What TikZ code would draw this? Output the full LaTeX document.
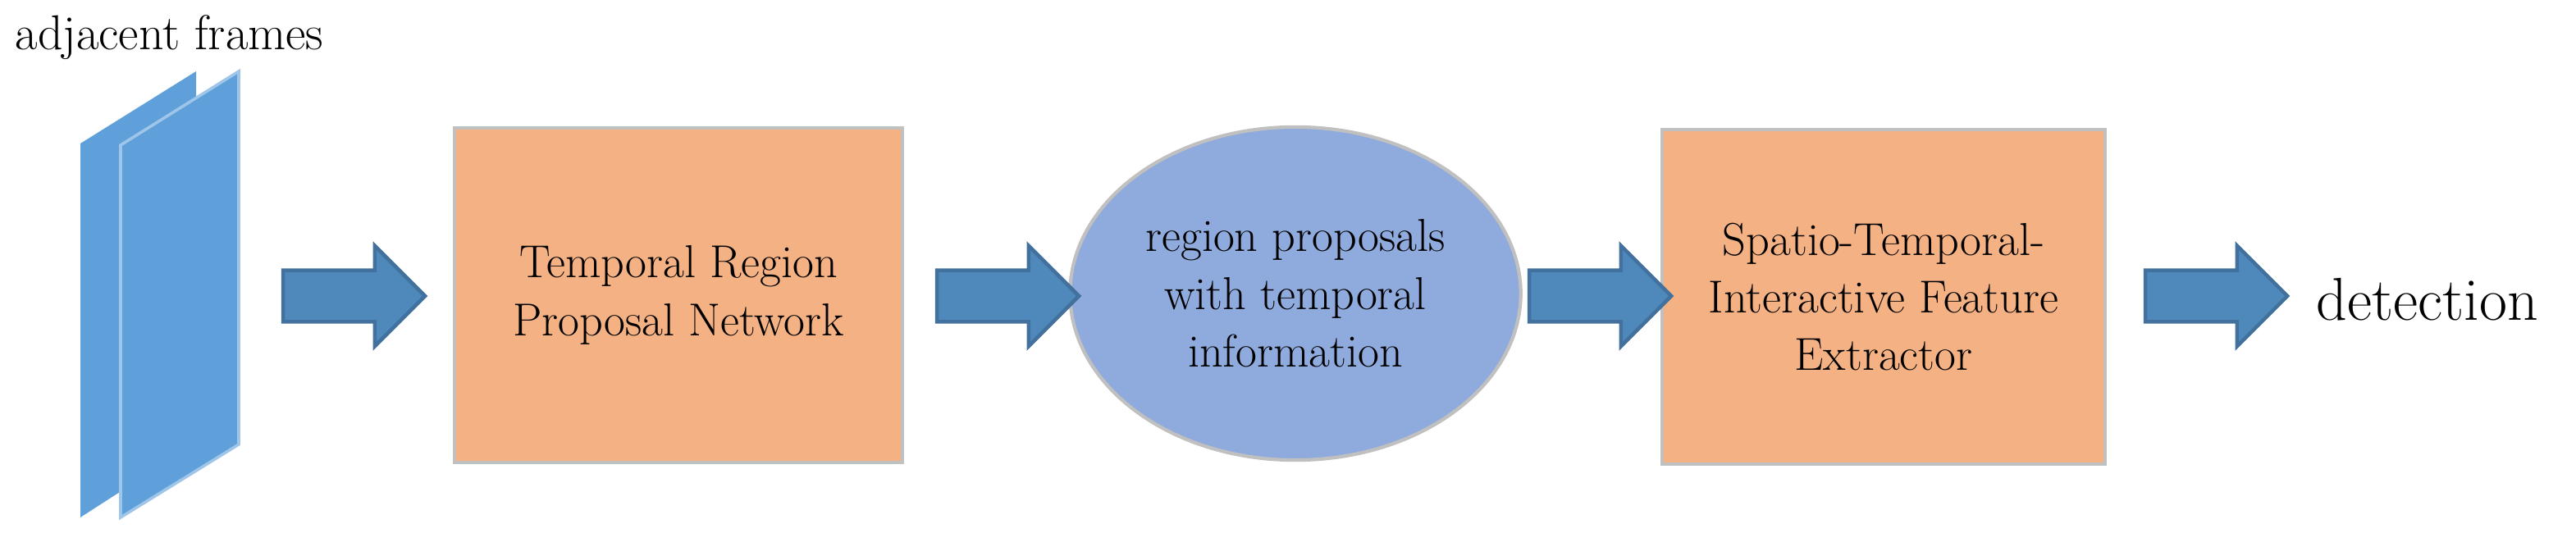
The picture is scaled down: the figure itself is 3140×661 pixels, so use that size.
\documentclass[tikz,border=0pt]{standalone}
\usepackage{tikz}
\usetikzlibrary{shapes.geometric,shapes.arrows,positioning}
\definecolor{frameblue}{RGB}{95,160,218}
\definecolor{arrowblue}{RGB}{79,136,187}
\definecolor{arrowedge}{RGB}{65,113,156}
\definecolor{boxorange}{RGB}{244,177,131}
\definecolor{ellblue}{RGB}{143,170,220}
\definecolor{edgegray}{RGB}{192,192,192}

\tikzset{
  block/.style={rectangle,draw=edgegray,line width=1.2pt,fill=boxorange,
    minimum width=5.45cm,minimum height=4.08cm,align=center,
    font=\fontsize{16}{20}\selectfont},
  bigarrow/.style={single arrow,draw=arrowedge,line width=1.3pt,fill=arrowblue,
    minimum height=1.73cm,inner xsep=0pt,inner ysep=0.29cm,text height=0pt,
    text depth=0pt,single arrow head extend=0.3cm,single arrow tip angle=90},
}

\begin{document}
\begin{tikzpicture}[x=0.01cm,y=-0.01cm]
    \useasboundingbox (0,0) rectangle (3140,661);
    % frames
    \fill[frameblue] (98,175) -- (239,87) -- (239,540) -- (98,631) -- cycle;
    \filldraw[fill=frameblue,draw=frameblue!60!white,line width=1pt]
      (147,177) -- (291,87) -- (291,542) -- (147,631) -- cycle;
    \node[anchor=base west,inner sep=0pt,font=\fontsize{17}{20}\selectfont]
      (frames) at (18,61) {adjacent frames};

    \node[block] (trpn) at (827,360) {Temporal Region\\Proposal Network};
    \node[ellipse,draw=edgegray,line width=1.2pt,fill=ellblue,
      minimum width=5.42cm,minimum height=4.06cm,align=center,
      font=\fontsize{16}{20}\selectfont] (props) at (1579,358)
      {region proposals\\with temporal\\information};
    \node[block,minimum width=5.4cm] (stife) at (2296,362)
      {Spatio-Temporal-\\Interactive Feature\\Extractor};
    \node[anchor=base west,inner sep=0pt,font=\fontsize{21}{24}\selectfont]
      (det) at (2823,390) {detection};

    % block arrows
    \node[bigarrow] (arr1) at (416,361) {};
    \node[bigarrow] (arr2) at (1213,361) {};
    \node[bigarrow] (arr3) at (1935,361) {};
    \node[bigarrow] (arr4) at (2686,361) {};
\end{tikzpicture}
\end{document}
